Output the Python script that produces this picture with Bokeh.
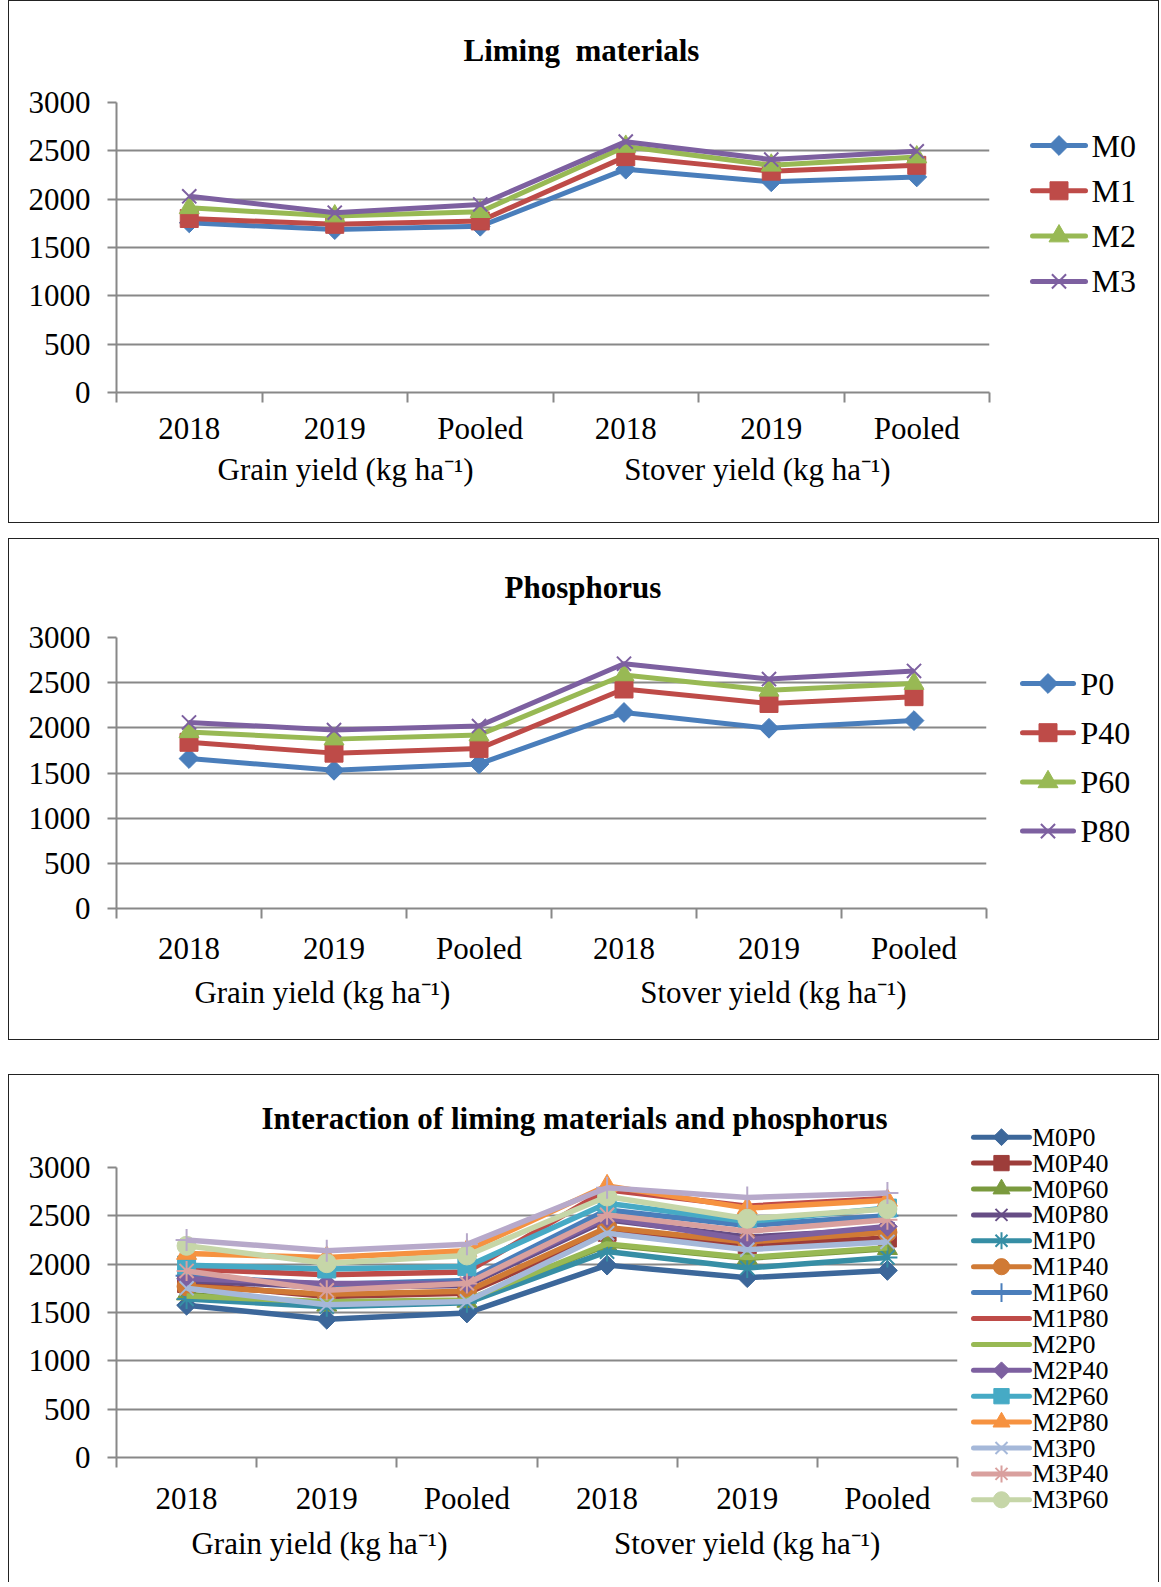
import numpy as np
from bokeh.plotting import figure
from bokeh.models import Range1d, FixedTicker, LinearAxis
from bokeh.core.properties import value
from bokeh.embed import file_html
from bokeh.resources import INLINE

# ---------------------------------------------------------------- data
categories = ["2018", "2019", "Pooled", "2018", "2019", "Pooled"]
groups = ["Grain yield (kg ha\u207b\u00b9)", "Stover yield (kg ha\u207b\u00b9)"]
y_ticks = [0, 500, 1000, 1500, 2000, 2500, 3000]

# liming materials
liming_names = ["M0", "M1", "M2", "M3"]
M0 = [1755, 1685, 1720, 2310, 2180, 2230]
M1 = [1800, 1740, 1775, 2440, 2290, 2350]
M2 = [1910, 1825, 1870, 2545, 2350, 2435]
M3 = [2030, 1860, 1945, 2595, 2410, 2495]

# phosphorus rates
phos_names = ["P0", "P40", "P60", "P80"]
P0 = [1660, 1530, 1600, 2170, 1995, 2080]
P40 = [1840, 1720, 1770, 2430, 2270, 2345]
P60 = [1955, 1875, 1920, 2585, 2415, 2490]
P80 = [2060, 1975, 2020, 2710, 2540, 2630]

# interaction
inter_names = ["M0P0", "M0P40", "M0P60", "M0P80", "M1P0", "M1P40", "M1P60", "M1P80",
               "M2P0", "M2P40", "M2P60", "M2P80", "M3P0", "M3P40", "M3P60", "M3P80"]
M0P0 = [1575, 1430, 1495, 1990, 1860, 1935]
M0P40 = [1800, 1665, 1700, 2330, 2200, 2270]
M0P60 = [1690, 1575, 1615, 2200, 2060, 2160]
M0P80 = [1830, 1760, 1780, 2460, 2280, 2360]
M1P0 = [1640, 1560, 1600, 2130, 1960, 2070]
M1P40 = [1770, 1690, 1720, 2380, 2230, 2330]
M1P60 = [1880, 1790, 1830, 2560, 2400, 2500]
M1P80 = [1950, 1890, 1920, 2770, 2600, 2680]
M2P0 = [1670, 1610, 1630, 2210, 2070, 2170]
M2P40 = [1850, 1800, 1800, 2480, 2250, 2390]
M2P60 = [1990, 1950, 1975, 2630, 2440, 2580]
M2P80 = [2110, 2070, 2140, 2810, 2580, 2660]
M3P0 = [1750, 1580, 1615, 2320, 2150, 2230]
M3P40 = [1930, 1730, 1800, 2510, 2340, 2460]
M3P60 = [2190, 2010, 2090, 2700, 2470, 2570]
M3P80 = [2250, 2140, 2205, 2790, 2690, 2735]

# ---------------------------------------------------------------- styles
FONT = "Liberation Serif"
GRID = "#888888"

base_styles = [("#4A7EBB", "diamond"), ("#BE4B48", "square"),
               ("#98B954", "triangle"), ("#7D60A0", "x")]

inter_styles = [
    ("#3C679A", "diamond"), ("#9D3D3A", "square"), ("#7A9A3E", "triangle"),
    ("#664D85", "x"), ("#368EA5", "asterisk"), ("#D07A35", "circle"),
    ("#4A7EBB", "cross"), ("#BE4B48", None), ("#98B954", None),
    ("#7D60A0", "diamond"), ("#46AAC5", "square"), ("#F69240", "triangle"),
    ("#A5B8D9", "x"), ("#D9A09E", "asterisk"), ("#C6D6A8", "circle"),
    ("#B7A9CA", "cross"),
]

MARKER_SIZE = {"diamond": 14, "square": 18, "triangle": 20, "x": 20,
               "asterisk": 20, "circle": 19, "cross": 22}


def marker_kw(color, marker, scale=1.0):
    kw = dict(size=MARKER_SIZE[marker] * scale, line_color=color, fill_color=color)
    if marker == "diamond":
        kw.update(marker="square", angle=np.pi / 4)
    else:
        kw.update(marker=marker)
    if marker in ("x", "asterisk", "cross"):
        kw.update(line_width=2)
    return kw


def make_panel(names, series, styles, width, height, frame_left, frame_top,
               frame_right_pad, frame_bottom_pad, cat_standoff, group_standoff,
               group_pos, lw, border, margin):
    p = figure(width=width, height=height, x_range=Range1d(0, len(categories)),
               y_range=Range1d(0, 3000), x_axis_type=None,
               output_backend="svg", toolbar_location=None,
               min_border_left=frame_left, min_border_top=frame_top,
               min_border_right=frame_right_pad, min_border_bottom=frame_bottom_pad)
    p.outline_line_color = None
    p.background_fill_color = "white"
    p.border_fill_color = "white"
    p.styles = border
    p.margin = margin

    yax = p.yaxis[0]
    yax.ticker = FixedTicker(ticks=y_ticks)
    yax.major_label_text_font = FONT
    yax.major_label_text_font_size = "31px"
    yax.major_label_text_color = "black"
    yax.major_label_standoff = 17
    yax.major_tick_in = 0
    yax.major_tick_out = 9
    yax.minor_tick_line_color = None
    yax.axis_line_color = GRID
    yax.axis_line_width = 2
    yax.major_tick_line_color = GRID
    yax.major_tick_line_width = 2
    p.ygrid.grid_line_color = GRID
    p.ygrid.grid_line_width = 2

    xs = np.arange(len(categories)) + 0.5
    cat_axis = LinearAxis(
        ticker=FixedTicker(ticks=list(xs), minor_ticks=list(range(len(categories) + 1))),
        major_label_overrides={float(x): c for x, c in zip(xs, categories)},
        major_label_text_font=FONT, major_label_text_font_size="31px",
        major_label_text_color="black", major_label_standoff=cat_standoff,
        major_tick_line_color=None, major_tick_in=0, major_tick_out=10,
        minor_tick_in=0, minor_tick_out=10, minor_tick_line_color=GRID,
        minor_tick_line_width=2, axis_line_color=GRID, axis_line_width=2)
    p.add_layout(cat_axis, "below")

    group_axis = LinearAxis(
        ticker=FixedTicker(ticks=list(group_pos), minor_ticks=[]),
        major_label_overrides={float(x): g for x, g in zip(group_pos, groups)},
        major_label_text_font=FONT, major_label_text_font_size="31px",
        major_label_text_color="black", major_label_standoff=group_standoff,
        major_tick_line_color=None, major_tick_in=0, major_tick_out=0,
        minor_tick_line_color=None, axis_line_color=None)
    p.add_layout(group_axis, "below")

    for (name, ys), (color, marker) in zip(zip(names, series), styles):
        p.line(xs, ys, line_color=color, line_width=lw, line_join="round")
        if marker is not None:
            p.scatter(xs, ys, **marker_kw(color, marker))
    return p


def make_overlay(title, title_x, title_y, names, styles, left, top, width, height,
                 first_row, step, glyph_x0, glyph_x1, text_x, font_size, lw,
                 marker_scale):
    """Title and series key, laid in page pixel units over a panel."""
    k = figure(width=width, height=height, x_range=Range1d(left, left + width),
               y_range=Range1d(top + height, top), x_axis_type=None, y_axis_type=None,
               output_backend="svg", toolbar_location=None,
               min_border=0, min_border_left=0, min_border_right=0,
               min_border_top=0, min_border_bottom=0)
    k.outline_line_color = None
    k.background_fill_alpha = 0
    k.border_fill_alpha = 0
    k.grid.visible = False
    k.styles = {"position": "absolute", "left": f"{left}px", "top": f"{top}px"}

    k.text(x=[title_x], y=[title_y], text=[title], text_font=value(FONT),
           text_font_style="bold", text_font_size="31px", text_color="black",
           text_baseline="middle", text_align="left")

    rows = [first_row + i * step for i in range(len(names))]
    mid = (glyph_x0 + glyph_x1) / 2
    for y, name, (color, marker) in zip(rows, names, styles):
        k.line([glyph_x0, glyph_x1], [y, y], line_color=color, line_width=lw,
               line_cap="round")
        if marker is not None:
            k.scatter([mid], [y], **marker_kw(color, marker, marker_scale))
    k.text(x=[text_x] * len(names), y=rows, text=list(names),
           text_font=value(FONT), text_font_size=font_size, text_color="black",
           text_baseline="middle", text_align="left")
    return k


BOX = {"border": "1px solid #222222"}

p1 = make_panel(liming_names, [M0, M1, M2, M3], base_styles,
                width=1151, height=523, frame_left=107, frame_top=101,
                frame_right_pad=171, frame_bottom_pad=132,
                cat_standoff=8, group_standoff=3,
                group_pos=[1.574, 4.405], lw=5, border=BOX, margin=(0, 0, 0, 8))

p2 = make_panel(phos_names, [P0, P40, P60, P80], base_styles,
                width=1151, height=502, frame_left=107, frame_top=98,
                frame_right_pad=174, frame_bottom_pad=133,
                cat_standoff=12, group_standoff=6,
                group_pos=[1.42, 4.53], lw=5, border=BOX, margin=(15, 0, 0, 8))

inter_series = [M0P0, M0P40, M0P60, M0P80, M1P0, M1P40, M1P60, M1P80,
                M2P0, M2P40, M2P60, M2P80, M3P0, M3P40, M3P60, M3P80]
p3 = make_panel(inter_names, inter_series, inter_styles,
                width=1151, height=508, frame_left=107, frame_top=92,
                frame_right_pad=203, frame_bottom_pad=126,
                cat_standoff=13, group_standoff=7,
                group_pos=[1.448, 4.5], lw=5.5,
                border={"border": "1px solid #222222", "border-bottom": "none"},
                margin=(34, 0, 0, 8))

k1 = make_overlay("Liming\u00a0 materials", 463, 50, liming_names, base_styles,
                  left=9, top=1, width=1151, height=523,
                  first_row=145, step=45.3, glyph_x0=1032, glyph_x1=1085, text_x=1091,
                  font_size="32px", lw=5, marker_scale=1.0)
k2 = make_overlay("Phosphorus", 504, 587, phos_names, base_styles,
                  left=9, top=541, width=1151, height=502,
                  first_row=683, step=49.2, glyph_x0=1022, glyph_x1=1073, text_x=1080,
                  font_size="32px", lw=5, marker_scale=1.0)
k3 = make_overlay("Interaction of liming materials and phosphorus", 261, 1118,
                  inter_names[:15], inter_styles[:15],
                  left=9, top=1079, width=1151, height=508,
                  first_row=1136.7, step=25.9, glyph_x0=973, glyph_x1=1029,
                  text_x=1031.5, font_size="26px", lw=5, marker_scale=0.85)

open("out.html", "w").write(file_html([p1, p2, p3, k1, k2, k3], INLINE))
